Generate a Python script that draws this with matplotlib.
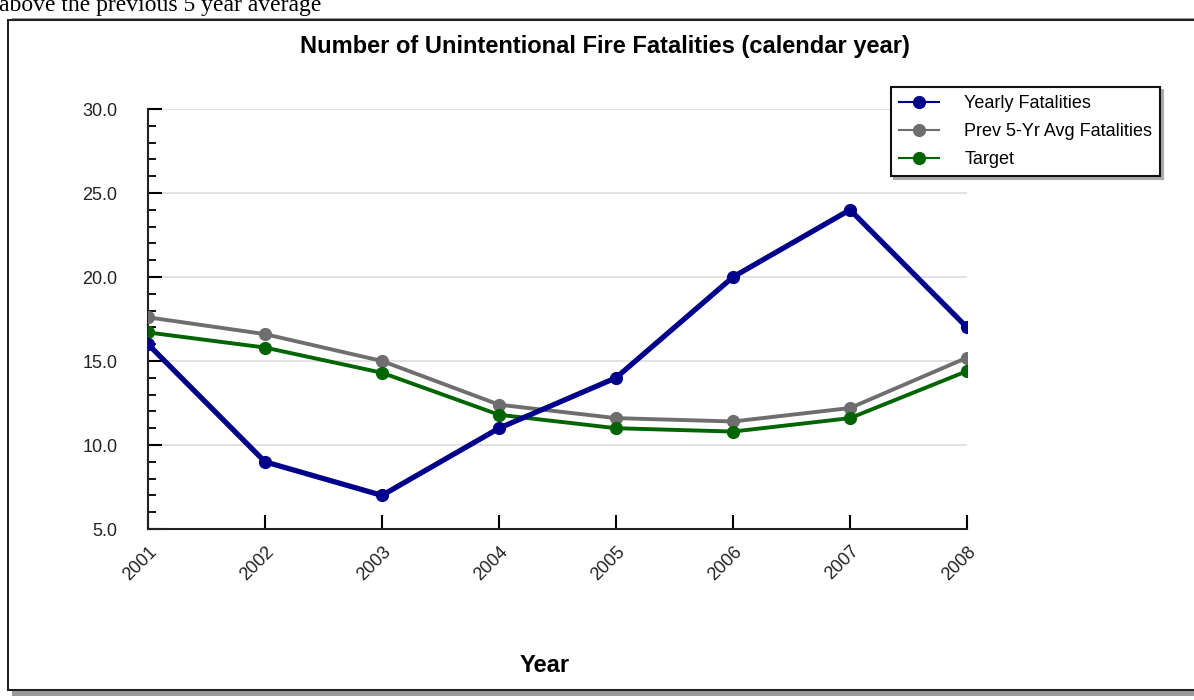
import matplotlib
matplotlib.use("Agg")
import matplotlib.pyplot as plt
from matplotlib.patches import Rectangle
from matplotlib.ticker import MultipleLocator, FormatStrFormatter

years = [2001, 2002, 2003, 2004, 2005, 2006, 2007, 2008]
yearly = [16, 9, 7, 11, 14, 20, 24, 17]
prev5_avg = [17.6, 16.6, 15.0, 12.4, 11.6, 11.4, 12.2, 15.2]
target = [16.7, 15.8, 14.3, 11.8, 11.0, 10.8, 11.6, 14.4]

narrow = ["Liberation Sans Narrow", "Liberation Sans", "DejaVu Sans"]

fig = plt.figure(figsize=(11.94, 7.0), dpi=100)
W, H = 1194, 700

# clipped caption line above the chart frame
fig.text(-0.001, 1 - 11 / H, "above the previous 5 year average",
         family=["Liberation Serif", "DejaVu Serif"], fontsize=17, va="baseline")

# outer frame with drop shadow
fig.patches.append(Rectangle((12 / W, 4 / H), 1.2, 678 / H, transform=fig.transFigure,
                             facecolor="#9a9a9a", edgecolor="none", zorder=0))
fig.patches.append(Rectangle((8 / W, 10 / H), 1.2, 670 / H, transform=fig.transFigure,
                             facecolor="white", edgecolor="#222222", lw=1.5, zorder=1))

ax = fig.add_axes([148 / W, 1 - 529 / H, (967 - 148) / W, (529 - 109) / H])
ax.set_zorder(2)
ax.patch.set_alpha(0)

ax.plot(years, prev5_avg, color="#6e6e6e", lw=2.8, marker="o", ms=8.5, label="Prev 5-Yr Avg Fatalities", zorder=3)
ax.plot(years, target, color="#006400", lw=2.8, marker="o", ms=8.5, label="Target", zorder=3)
ax.plot(years, yearly, color="#00008b", lw=3.8, marker="o", ms=8.5, label="Yearly Fatalities", zorder=4)

ax.set_xlim(2001, 2008)
ax.set_ylim(5, 30)
ax.yaxis.set_major_locator(MultipleLocator(5))
ax.yaxis.set_minor_locator(MultipleLocator(1))
ax.yaxis.set_major_formatter(FormatStrFormatter("%.1f"))
ax.set_xticks(years)
ax.set_xticklabels([str(y) for y in years], rotation=45, ha="right", rotation_mode="anchor",
                   family=narrow, fontsize=13, color="#222222")
for lab in ax.get_yticklabels():
    lab.set_family(narrow)
    lab.set_fontsize(13)
    lab.set_color("#222222")
ax.tick_params(axis="y", which="major", direction="in", length=10, width=1.5, pad=22)
ax.tick_params(axis="y", which="minor", direction="in", length=6, width=1.3)
ax.tick_params(axis="x", which="major", direction="in", length=10, width=1.5, pad=10)
ax.grid(axis="y", which="major", color="#dddddd", lw=1.2)
ax.set_axisbelow(True)
for sp in ("top", "right"):
    ax.spines[sp].set_visible(False)
for sp in ("left", "bottom"):
    ax.spines[sp].set_linewidth(1.5)
    ax.spines[sp].set_color("#222222")

fig.text(605 / W, 1 - 46 / H, "Number of Unintentional Fire Fatalities (calendar year)",
         family=narrow, fontsize=17, fontweight="bold", ha="center", va="center")
fig.text(545 / W, 1 - 666 / H, "Year", family=narrow, fontsize=17, fontweight="bold",
         ha="center", va="center")

h, l = ax.get_legend_handles_labels()
order = [2, 0, 1]
leg = fig.legend([h[i] for i in order], [l[i] for i in order],
                 loc="upper left", bbox_to_anchor=(882 / W, 1 - 78 / H),
                 fancybox=False, shadow={"color": "#aaaaaa", "alpha": 1}, edgecolor="#111111",
                 framealpha=1, prop={"family": narrow, "size": 13},
                 handlelength=2.2, handletextpad=1.4, borderpad=0.45, labelspacing=0.6)
leg.get_frame().set_linewidth(1.5)
for line in leg.get_lines():
    line.set_linewidth(1.5)
    line.set_markersize(8.5)

fig.savefig("out.png", dpi=100)
